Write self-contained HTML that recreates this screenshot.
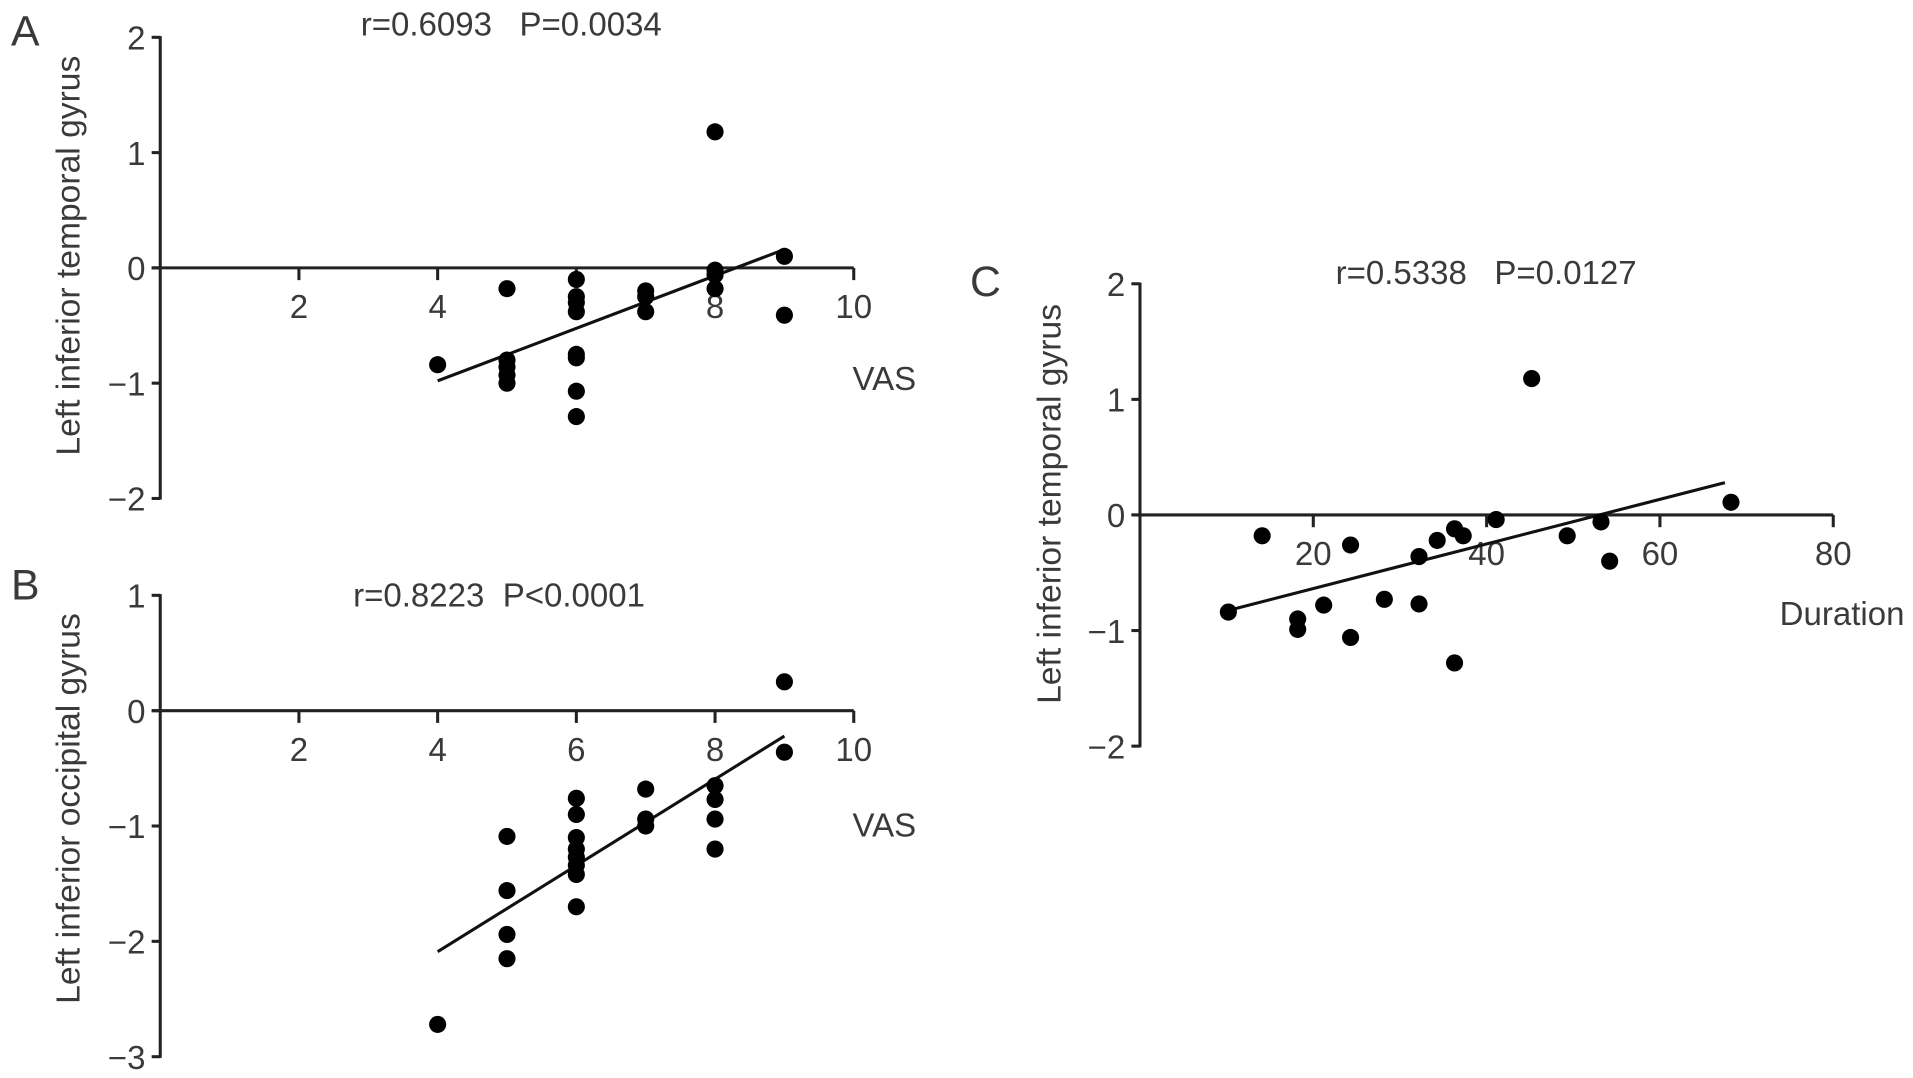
<!DOCTYPE html>
<html><head><meta charset="utf-8">
<style>
html,body{margin:0;padding:0;background:#fff;}
svg{display:block;}
text{font-family:"Liberation Sans",sans-serif;fill:#3a3a3a;white-space:pre;}
</style></head>
<body>
<svg id="fig" width="1913" height="1078" viewBox="0 0 1564 881.3" xmlns="http://www.w3.org/2000/svg"></svg>
<script>
// Panel A data (VAS vs left inferior temporal gyrus)
const aVas = [4,5,5,5,5,5,6,6,6,6,6,6,6,6,7,7,7,8,8,8,8,9,9];
const aVal = [-0.84,-0.18,-0.8,-0.86,-0.93,-1.0,-0.1,-0.25,-0.3,-0.38,-0.75,-0.78,-1.07,-1.29,-0.2,-0.25,-0.38,1.18,-0.02,-0.06,-0.18,0.1,-0.41];
const aFit = [[4,-0.98],[9,0.16]];
const aXTicks = [2,4,6,8,10];
const aYTicks = [2,1,0,-1,-2];
// Panel B data (VAS vs left inferior occipital gyrus)
const bVas = [4,5,5,5,5,6,6,6,6,6,6,6,6,7,7,7,8,8,8,8,9,9];
const bVal = [-2.72,-1.09,-1.56,-1.94,-2.15,-0.76,-0.9,-1.1,-1.2,-1.27,-1.34,-1.42,-1.7,-0.68,-0.94,-1.0,-0.65,-0.77,-0.94,-1.2,0.25,-0.36];
const bFit = [[4,-2.09],[9,-0.22]];
const bXTicks = [2,4,6,8,10];
const bYTicks = [1,0,-1,-2,-3];
// Panel C data (Duration vs left inferior temporal gyrus)
const cDur = [10.2,14.1,18.2,18.2,21.2,24.3,24.3,28.2,32.2,32.2,34.3,36.3,37.3,36.3,41.1,45.2,49.3,53.2,54.2,68.2];
const cVal = [-0.84,-0.18,-0.9,-0.99,-0.78,-0.26,-1.06,-0.73,-0.36,-0.77,-0.22,-0.12,-0.18,-1.28,-0.04,1.18,-0.18,-0.06,-0.4,0.11];
const cFit = [[10.5,-0.82],[67.5,0.28]];
const cXTicks = [20,40,60,80];
const cYTicks = [2,1,0,-1,-2];

const NS='http://www.w3.org/2000/svg';
const svg=document.getElementById('fig');
function mk(tag,attrs,parent){const e=document.createElementNS(NS,tag);for(const k in attrs)e.setAttribute(k,attrs[k]);(parent||svg).appendChild(e);return e;}

function panel(p){
  const g=mk('g',{});
  
  
  const sx=v=>p.x0+(v-0)*p.xu;
  const sy=v=>p.y0-v*p.yu;
  const yMax=Math.max(...p.yt), yMin=Math.min(...p.yt), xMax=Math.max(...p.xt);
  const ya=mk('line',{x1:sx(0),x2:sx(0),y1:sy(yMax)-1,y2:sy(yMin)+1,stroke:'#222','stroke-width':2.5},g);
  
  
  p.yt.forEach(t=>{
    const tk=mk('line',{x1:sx(0)-7,x2:sx(0),y1:sy(t),y2:sy(t),stroke:'#222','stroke-width':2.5},g);
    
    
    const tl=mk('text',{x:sx(0)-12,y:sy(t)+10,'text-anchor':'end','font-size':27},g);
    tl.textContent=t<0?'\u2212'+(-t):String(t);
    
    
  });
  const xa=mk('line',{x1:sx(0)-7,x2:sx(xMax),y1:sy(0),y2:sy(0),stroke:'#222','stroke-width':2.5},g);
  
  
  p.xt.forEach(t=>{
    const tk=mk('line',{x1:sx(t),x2:sx(t),y1:sy(0),y2:sy(0)+10,stroke:'#222','stroke-width':2.5},g);
    
    
    const tl=mk('text',{x:sx(t),y:sy(0)+41,'text-anchor':'middle','font-size':27},g);
    tl.textContent=String(t);
    
    
  });
  const fl=mk('line',{x1:sx(p.fit[0][0]),y1:sy(p.fit[0][1]),x2:sx(p.fit[1][0]),y2:sy(p.fit[1][1]),stroke:'#111','stroke-width':2.5},g);
  
  
  p.xs.forEach((xv,i)=>{
    const c=mk('circle',{cx:sx(xv),cy:sy(p.ys[i]),r:7,fill:'#000'},g);
    
    
  });
  const L=mk('text',{x:p.lx,y:p.ly,'font-size':35},g);L.textContent=p.letter;
  
  
  const T=mk('text',{x:p.tx,y:p.ty,'text-anchor':'middle','font-size':27},g);T.textContent=p.title;
  
  
  const Y=mk('text',{x:0,y:0,'text-anchor':'middle','font-size':27.5,transform:`translate(${p.yx},${p.yy}) rotate(-90)`},g);Y.textContent=p.ylabel;
  
  
  const X=mk('text',{x:p.xx,y:p.xy,'font-size':27},g);X.textContent=p.xlabel;
  
  
}

panel({name:'panel-a',x0:131,xu:56.7,y0:219,yu:94.25,xt:aXTicks,yt:aYTicks,xs:aVas,ys:aVal,fit:aFit,
  letter:'A',lx:9,ly:37,title:'r=0.6093   P=0.0034',tx:418,ty:29,ylabel:'Left inferior temporal gyrus',yx:65,yy:209,xlabel:'VAS',xx:697,xy:319});
panel({name:'panel-b',x0:131,xu:56.7,y0:581,yu:94.3,xt:bXTicks,yt:bYTicks,xs:bVas,ys:bVal,fit:bFit,
  letter:'B',lx:9,ly:490,title:'r=0.8223  P<0.0001',tx:408,ty:496,ylabel:'Left inferior occipital gyrus',yx:65,yy:661,xlabel:'VAS',xx:697,xy:684});
panel({name:'panel-c',x0:932,xu:7.085,y0:421,yu:94.5,xt:cXTicks,yt:cYTicks,xs:cDur,ys:cVal,fit:cFit,
  letter:'C',lx:793,ly:242,title:'r=0.5338   P=0.0127',tx:1215,ty:232,ylabel:'Left inferior temporal gyrus',yx:867,yy:412,xlabel:'Duration',xx:1455,xy:511});
</script>
</body></html>
